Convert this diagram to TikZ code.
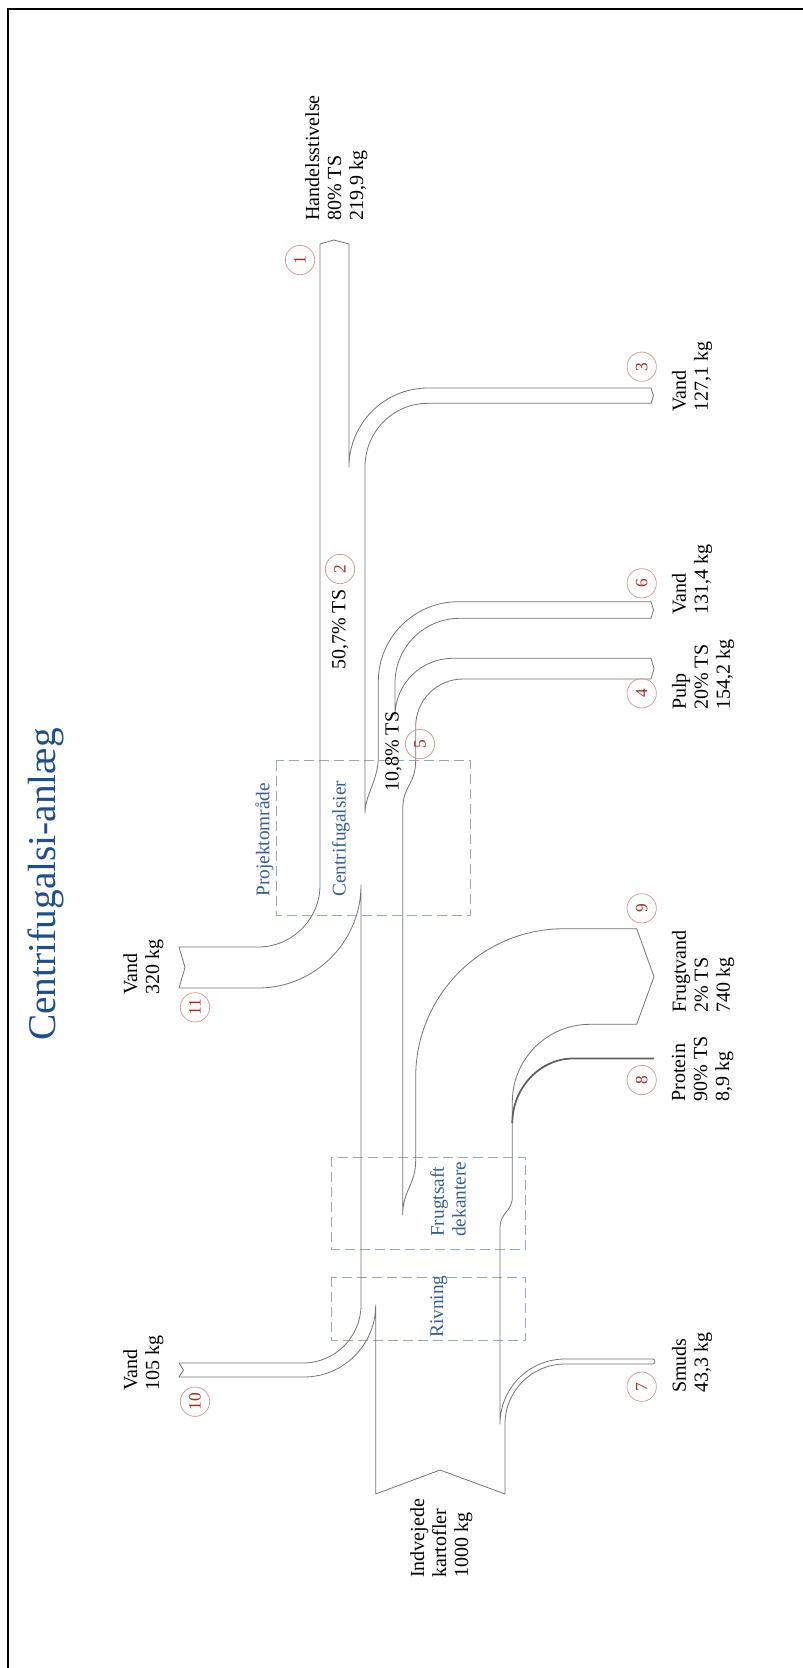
\documentclass[tikz,border=0pt]{standalone}
\usepackage{fontspec}
\setmainfont{Liberation Serif}
\definecolor{flowgray}{RGB}{115,115,115}
\definecolor{protgray}{RGB}{95,95,95}
\definecolor{titleblue}{RGB}{31,78,140}
\definecolor{boxblue}{RGB}{54,95,145}
\definecolor{dashblue}{RGB}{150,170,190}
\definecolor{circpink}{RGB}{205,155,150}
\definecolor{numred}{RGB}{165,45,35}
\begin{document}
\begin{tikzpicture}[x=0.75pt,y=-0.75pt,
  flow/.style={draw=flowgray, line width=0.6pt, line join=round},
  lbl/.style={rotate=90, anchor=north west, inner sep=0pt, align=left, font=\fontsize{15}{16.5}\selectfont},
  blbl/.style={lbl, text=boxblue, font=\fontsize{14.5}{16.3}\selectfont},
  num/.style={circle, draw=circpink, line width=0.55pt, minimum size=22pt, inner sep=0pt, text=numred, font=\fontsize{13}{14}\selectfont, rotate=90},
  area/.style={draw=dashblue, line width=0.6pt, dash pattern=on 7.5pt off 3.75pt}]
\useasboundingbox (0,0) rectangle (803,1668);
% frame
\draw[line width=2pt] (8,1668) -- (8,9) -- (803,9);
% title
\node[rotate=90, anchor=north west, inner sep=0pt, text=titleblue, font=\fontsize{29.5}{32}\selectfont] (title) at (28,1041) {Centrifugalsi-anlæg};
% dashed process areas
\draw[area] (276,760.7) rectangle (470.7,915);
\draw[area] (331.7,1157.3) rectangle (525.7,1249);
\draw[area] (331.7,1277.3) rectangle (525.7,1340.7);
% sankey outline
\draw[flow] (320,244) -- (334,240) -- (349,244) -- (349,467)
  .. controls (349,423.4) and (384.4,388) .. (428,388) -- (651,388) -- (653.5,395.7) -- (651,403.3) -- (428,403.3)
  .. controls (392.8,403.3) and (365,431.8) .. (365,467) -- (365,813)
  .. controls (365,795) and (378.3,780) .. (378.3,757) -- (378.3,681.7)
  .. controls (378.3,637.5) and (414.1,601.7) .. (458.3,601.7) -- (651,601.7) -- (653.5,610) -- (651,618.3) -- (459.7,618.3)
  .. controls (424,618.3) and (395,647.3) .. (395,683) -- (395,716)
  .. controls (395,684.1) and (420.8,658.3) .. (452.7,658.3) -- (651,658.3) -- (654,668.7) -- (651,679) -- (463,679)
  .. controls (436.9,679) and (415.7,700.2) .. (415.7,726.3) -- (415.7,760)
  .. controls (415.7,785) and (402.7,785) .. (402.7,810) -- (402.7,1215)
  .. controls (402.7,1190) and (415.7,1185) .. (415.7,1160) -- (415.7,1077)
  .. controls (415.7,995.1) and (482.1,928.7) .. (564,928.7) -- (636.7,928.7) -- (654,976.7) -- (636.7,1024.3) -- (590,1024.3)
  .. controls (547.1,1024.3) and (512.3,1059.1) .. (512.3,1102) -- (512.3,1197)
  .. controls (512.3,1212) and (500,1212) .. (500,1228) -- (500,1424)
  .. controls (500,1388.1) and (529.1,1359) .. (565,1359) -- (653,1359)
  .. controls (655.5,1359) and (655.5,1364) .. (653,1364) -- (565,1364)
  .. controls (531.9,1364) and (505,1390.9) .. (505,1424) -- (505,1494) -- (440,1470) -- (375.7,1494) -- (375.7,1305)
  .. controls (375.7,1344.8) and (343.5,1377) .. (303.7,1377) -- (179,1377) -- (183.5,1370) -- (179,1363) -- (303,1363)
  .. controls (335,1363) and (361,1337) .. (361,1305) -- (361,885)
  .. controls (361,941.9) and (314.9,988) .. (258,988) -- (179,988) -- (185,967.5) -- (179,947) -- (258,947)
  .. controls (292.2,947) and (320,919.2) .. (320,885) -- cycle;
% protein stream
\draw[draw=protgray, line width=1.3pt] (512.3,1123) .. controls (512.3,1088) and (540,1058.5) .. (573,1058.5) -- (654,1058.5);
% labels
\node[lbl] (l1) at (305,221) {Handelsstivelse\\80\% TS\\219,9 kg};
\node[lbl] (l3) at (671.7,412) {Vand\\127,1 kg};
\node[lbl] (l6) at (671.7,615) {Vand\\131,4 kg};
\node[lbl] (l4) at (671.7,710) {Pulp\\20\% TS\\154,2 kg};
\node[lbl] (l9) at (671.7,1013) {Frugtvand\\2\% TS\\740 kg};
\node[lbl] (l8) at (671.7,1101.7) {Protein\\90\% TS\\8,9 kg};
\node[lbl] (l7) at (671.7,1393) {Smuds\\43,3 kg};
\node[lbl] (l10) at (123,1391) {Vand\\105 kg};
\node[lbl] (l11) at (123,995) {Vand\\320 kg};
\node[lbl] (l0) at (410,1578) {Indvejede\\kartofler\\1000 kg};
\node[lbl] (l2) at (331.7,670) {50,7\% TS};
\node[lbl] (l5) at (385,792) {10,8\% TS};
\node[blbl] (b1) at (255,897) {Projektområde};
\node[blbl] (b2) at (331.7,897) {Centrifugalsier};
\node[blbl] (b3) at (430,1237) {Frugtsaft\\dekantere};
\node[blbl] (b4) at (430,1338) {Rivning};
% circled numbers
\node[num] (c1) at (300,260) {1};
\node[num] (c2) at (340,569) {2};
\node[num] (c3) at (641.7,366.7) {3};
\node[num] (c4) at (641.7,693.3) {4};
\node[num] (c5) at (420,744) {5};
\node[num] (c6) at (641.7,583.3) {6};
\node[num] (c7) at (641.7,1386.7) {7};
\node[num] (c8) at (641.7,1080) {8};
\node[num] (c9) at (641.7,908.3) {9};
\node[num] (c10) at (195,1401.7) {10};
\node[num] (c11) at (195,1007.3) {11};
\end{tikzpicture}
\end{document}
